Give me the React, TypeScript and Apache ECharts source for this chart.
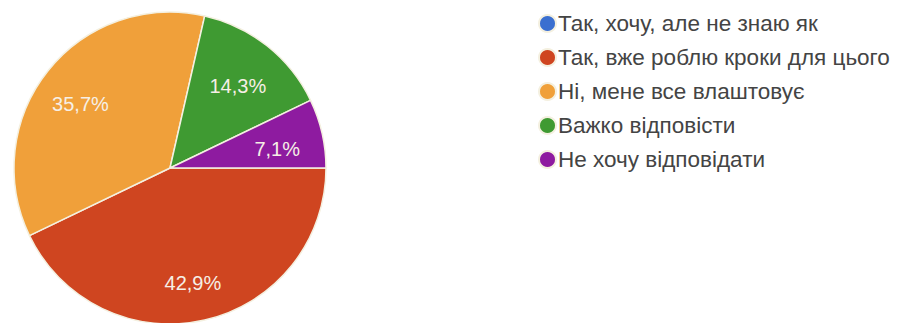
import React, { useEffect, useRef } from "react";
import * as echarts from "echarts";

const categories = [
  "Так, хочу, але не знаю як",
  "Так, вже роблю кроки для цього",
  "Ні, мене все влаштовує",
  "Важко відповісти",
  "Не хочу відповідати",
];
const values = [0, 6, 5, 2, 1];
const colors = ["#3b6fd0", "#cf4520", "#f0a03a", "#3f9a32", "#8e1ba0"];

const fmt = (p: any) =>
  p.value === 0 ? "" : p.percent.toFixed(1).replace(".", ",") + "%";

export default function App() {
  const ref = useRef<HTMLDivElement>(null);
  useEffect(() => {
    const chart = echarts.init(ref.current!, null, { renderer: "svg" });
    const data = categories.map((name, i) => ({
      name,
      value: values[i],
      itemStyle: { color: colors[i] },
    }));
    chart.setOption({
      animation: false,
      legend: {
        orient: "vertical",
        left: 538,
        top: 12,
        padding: 0,
        icon: "circle",
        itemWidth: 17,
        itemHeight: 17,
        itemGap: 11,
        data: categories,
        textStyle: {
          fontFamily: "Arial, 'Liberation Sans', sans-serif",
          fontSize: 22.5,
          lineHeight: 22,
          color: "#444444",
          padding: [0, 0, 0, -3],
        },
        selectedMode: false,
      },
      series: [
        {
          type: "pie",
          center: [170, 168],
          radius: 156,
          startAngle: 0,
          clockwise: true,
          label: { show: false },
          labelLine: { show: false },
          itemStyle: { borderColor: "#f4f0e0", borderWidth: 1.5 },
          emphasis: { disabled: true },
          data,
        },
        {
          type: "pie",
          center: [168, 174],
          radius: [62, 156],
          startAngle: 0,
          clockwise: true,
          silent: true,
          itemStyle: { color: "transparent", borderWidth: 0 },
          label: {
            show: true,
            position: "inside",
            formatter: fmt,
            fontFamily: "Arial, 'Liberation Sans', sans-serif",
            fontSize: 20,
            color: "#f6efe6",
          },
          labelLine: { show: false },
          emphasis: { disabled: true },
          data: categories.map((name, i) => ({ name, value: values[i] })),
        },
      ],
    });
    return () => chart.dispose();
  }, []);
  return (
    <div
      ref={ref}
      style={{ width: 902, height: 323, position: "absolute", left: 0, top: 0, background: "#fff" }}
    />
  );
}
